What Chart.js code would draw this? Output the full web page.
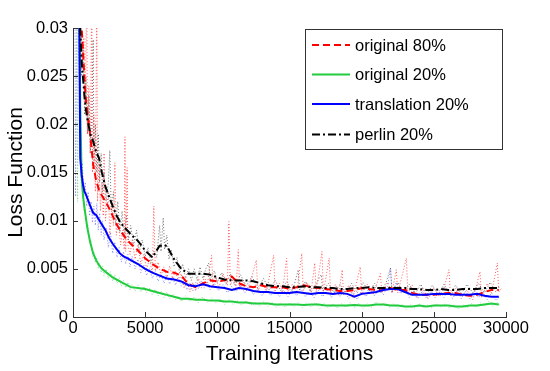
<!DOCTYPE html>
<html>
<head>
<meta charset="utf-8">
<script src="https://cdn.jsdelivr.net/npm/chart.js@4.4.0/dist/chart.umd.min.js"></script>
<style>
html,body{margin:0;padding:0;background:#fff;}
canvas{display:block;}
</style>
</head>
<body>
<canvas id="c" width="550" height="371"></canvas>
<script>
// ---- data ----
const iters = [400,500,600,700,800,900,1000,1200,1400,1600,1800,2000,2250,2500,2750,3000,3250,3500,3750,4000,
  4500,5000,5500,6000,6500,7000,7500,8000,8500,9000,9500,10000,10500,11000,11500,12000,12500,13000,13500,14000,
  14500,15000,15500,16000,16500,17000,17500,18000,18500,19000,19500,20000,20500,21000,21500,22000,22500,23000,23500,24000,
  24500,25000,25500,26000,26500,27000,27500,28000,28500,29000,29500];

const original80 = [0.040,0.034,0.030,0.0275,0.0245,0.0225,0.0212,0.0188,0.0158,0.0142,0.0132,0.0126,0.0120,0.0113,0.0105,0.0097,0.0090,0.0085,0.0080,0.0076,
  0.0069,0.0061,0.0055,0.0050,0.0047,0.0046,0.0043,0.0034,0.0031,0.0035,0.0038,0.0037,0.0038,0.0042,0.0035,0.0032,0.0031,0.0033,0.0031,0.0031,
  0.0031,0.0029,0.0031,0.0033,0.0031,0.0030,0.0029,0.0028,0.0027,0.0027,0.0028,0.0030,0.0029,0.0028,0.0030,0.0030,0.0028,0.0028,0.0025,0.0023,
  0.0023,0.0023,0.0024,0.0025,0.0025,0.0023,0.0022,0.0023,0.0026,0.0028,0.0028];

const original20 = [0.040,0.022,0.0146,0.0125,0.0113,0.0102,0.0092,0.0077,0.0066,0.0059,0.0054,0.0050,0.0047,0.0044,0.0041,0.0039,0.0037,0.0035,0.0033,0.0031,
  0.0030,0.0029,0.0027,0.0025,0.0023,0.0021,0.0019,0.0019,0.0018,0.0018,0.0017,0.0017,0.0016,0.0016,0.0015,0.0015,0.0014,0.0014,0.0014,0.0013,
  0.0013,0.0013,0.0013,0.00125,0.0013,0.0013,0.0012,0.0012,0.0012,0.0012,0.00125,0.0012,0.0012,0.0013,0.0013,0.0012,0.0012,0.0011,0.0011,0.0012,
  0.0011,0.0012,0.0012,0.0012,0.0011,0.0011,0.0012,0.0012,0.0013,0.0014,0.0013];

const translation20 = [0.040,0.0165,0.0148,0.0137,0.0130,0.0127,0.0123,0.0115,0.0108,0.0106,0.0101,0.0096,0.0090,0.0082,0.0076,0.0071,0.0066,0.0063,0.0061,0.0059,
  0.0055,0.0050,0.0046,0.0043,0.0040,0.0039,0.0037,0.0033,0.0032,0.0034,0.0032,0.0031,0.0030,0.0028,0.0030,0.0029,0.0027,0.0026,0.0026,0.0025,
  0.0025,0.0025,0.0026,0.0025,0.0024,0.0025,0.0025,0.0024,0.0025,0.0024,0.0021,0.0024,0.0025,0.0026,0.0028,0.0029,0.0029,0.0026,0.0023,0.0023,
  0.0023,0.0024,0.0024,0.0024,0.0023,0.0023,0.0023,0.0024,0.0022,0.0021,0.0021];

const perlin20 = [0.040,0.030,0.0265,0.0247,0.0228,0.0215,0.0205,0.0190,0.0182,0.0172,0.0165,0.0150,0.0135,0.0125,0.0115,0.0106,0.0099,0.0094,0.0090,0.0086,
  0.0079,0.0069,0.0062,0.0074,0.0074,0.0060,0.0050,0.0045,0.0045,0.0045,0.0044,0.0041,0.0039,0.0038,0.0038,0.0038,0.0037,0.0035,0.0033,0.0032,
  0.0032,0.0031,0.0031,0.0032,0.0031,0.0031,0.0030,0.0030,0.0029,0.0029,0.0030,0.0030,0.0031,0.0030,0.0030,0.0030,0.0030,0.0030,0.0029,0.0029,
  0.0028,0.0028,0.0029,0.0028,0.0028,0.0029,0.0029,0.0029,0.0030,0.0030,0.0030];

// raw (unsmoothed) loss, [iteration, loss]
const original80Raw = [[0,0.07],[150,0.05],[400,0.045],[500,0.030],[550,0.034],[650,0.026],[750,0.029],[850,0.022],[950,0.035],[1000,0.019],[1100,0.024],[1200,0.017],
  [1300,0.035],[1350,0.015],[1450,0.021],[1550,0.013],[1650,0.034],[1700,0.012],[1800,0.016],[1900,0.011],[2000,0.014],[2100,0.0105],[2150,0.017],[2250,0.010],
  [2450,0.013],[2550,0.0085],[2700,0.0115],[2800,0.0095],[2900,0.016],[3000,0.0085],[3150,0.010],[3300,0.0075],[3450,0.0090],[3550,0.0070],[3600,0.0187],[3650,0.0068],
  [3750,0.0155],[3800,0.0075],[3950,0.0065],[4100,0.0080],[4300,0.0060],[4500,0.0075],[4700,0.0055],[4900,0.0065],[5100,0.0050],[5300,0.0060],[5500,0.0045],[5600,0.0115],
  [5700,0.0048],[5900,0.0057],[6100,0.0043],[6300,0.0052],[6500,0.0040],[6700,0.0053],[6900,0.0040],[7100,0.0048],[7300,0.0036],[7500,0.0045],[7700,0.0030],[7900,0.0038],
  [8100,0.0026],[8300,0.0036],[8500,0.0027],[8700,0.0040],[8900,0.0030],[9100,0.0042],[9300,0.0033],[9600,0.0064],[9700,0.0032],[9900,0.0042],[10100,0.0030],[10400,0.0045],
  [10700,0.0033],[10800,0.0099],[10900,0.0033],[11100,0.0040],[11300,0.0030],[11450,0.0070],[11550,0.0029],[11800,0.0038],[12000,0.0027],[12300,0.0037],[12700,0.0059],[12800,0.0027],
  [13100,0.0036],[13400,0.0026],[13900,0.0064],[14000,0.0027],[14300,0.0035],[14500,0.0025],[14800,0.0061],[14900,0.0026],[15200,0.0034],[15500,0.0025],[15850,0.0066],[15950,0.0027],
  [16200,0.0036],[16500,0.0026],[16750,0.0056],[16850,0.0026],[17250,0.0068],[17350,0.0026],[17750,0.0061],[17850,0.0024],[18200,0.0034],[18400,0.0023],[18650,0.0049],[18750,0.0023],
  [19100,0.0033],[19400,0.0020],[19900,0.0052],[20000,0.0024],[20400,0.0034],[20800,0.0024],[21300,0.0045],[21400,0.0025],[21800,0.0036],[22100,0.0025],[22400,0.0049],[22500,0.0025],
  [23100,0.0061],[23200,0.0024],[23500,0.0033],[23800,0.0020],[24200,0.0030],[24600,0.0019],[25000,0.0030],[25400,0.0021],[25700,0.0030],[26050,0.0049],[26150,0.0022],[26500,0.0030],
  [26900,0.0021],[27300,0.0028],[27700,0.0018],[28200,0.0047],[28300,0.0020],[28700,0.0035],[29000,0.0025],[29400,0.0056],[29500,0.0026],[29700,0.0030]];

const original20Raw = [[0,0.07],[250,0.06],[320,0.012],[420,0.05],[480,0.022],[550,0.014],[650,0.0130],[750,0.0110],[850,0.0112],[950,0.0093],[1050,0.0095],[1150,0.0078],
  [1250,0.0080],[1350,0.0063],[1450,0.0068],[1550,0.0056],[1650,0.0062],[1750,0.0050],[1850,0.0056],[1950,0.0046],[2050,0.0053],[2150,0.0043],[2300,0.0050],[2450,0.0040],
  [2600,0.0047],[2750,0.0037],[2900,0.0044],[3050,0.0035],[3200,0.0041],[3350,0.0032],[3500,0.0038],[3650,0.0030],[3800,0.0036],[3950,0.0028],[4100,0.0034],[4300,0.0027],
  [4500,0.0033],[4700,0.0026],[4900,0.0032],[5100,0.0025],[5300,0.0030],[5500,0.0023],[5700,0.0029],[5900,0.0022],[6100,0.0027],[6300,0.0020],[6500,0.0026],[6700,0.0019],
  [6900,0.0024],[7100,0.0018],[7300,0.0022],[7500,0.0016],[7800,0.0022],[8100,0.0016],[8400,0.0021],[8700,0.0015],[9000,0.0021],[9300,0.0015],[9600,0.0020],[9900,0.0014],
  [10200,0.0019],[10500,0.0013],[10800,0.0018],[11100,0.0013],[11400,0.0017],[11700,0.0012],[12000,0.0017],[12300,0.0012],[12600,0.0016],[12900,0.0011],[13200,0.0016],[13500,0.0011],
  [13800,0.0015],[14100,0.0010],[14400,0.0015],[14700,0.0010],[15000,0.0015],[15300,0.0010],[15600,0.0015],[15900,0.0010],[16200,0.0015],[16500,0.0010],[16800,0.0015],[17100,0.0009],
  [17400,0.0014],[17700,0.0009],[18000,0.0014],[18300,0.0009],[18600,0.0014],[18900,0.0010],[19200,0.0015],[19500,0.0010],[19800,0.0014],[20100,0.0009],[20400,0.0014],[20700,0.0010],
  [21000,0.0016],[21300,0.0011],[21600,0.0015],[21900,0.0010],[22200,0.0014],[22500,0.0009],[22800,0.0013],[23100,0.0008],[23400,0.0013],[23700,0.0009],[24000,0.0014],[24300,0.0009],
  [24600,0.0013],[24900,0.0009],[25200,0.0014],[25500,0.0010],[25800,0.0014],[26100,0.0009],[26400,0.0013],[26700,0.0008],[27000,0.0013],[27300,0.0009],[27600,0.0014],[27900,0.0010],
  [28200,0.0015],[28500,0.0011],[28800,0.0016],[29100,0.0011],[29400,0.0015],[29600,0.0011]];

const translation20Raw = [[0,0.07],[100,0.05],[180,0.0125],[300,0.04],[480,0.020],[550,0.0145],[650,0.016],[750,0.0125],[850,0.0140],[950,0.0115],[1050,0.0130],[1150,0.0105],
  [1250,0.0120],[1350,0.0098],[1450,0.0115],[1550,0.0095],[1650,0.0118],[1750,0.0090],[1850,0.0108],[1950,0.0085],[2050,0.0100],[2150,0.0080],[2300,0.0093],[2450,0.0072],
  [2600,0.0088],[2750,0.0066],[2900,0.0078],[3050,0.0062],[3200,0.0072],[3350,0.0057],[3500,0.0068],[3650,0.0055],[3800,0.0065],[3950,0.0052],[4100,0.0063],[4300,0.0050],
  [4500,0.0060],[4700,0.0046],[4900,0.0054],[5100,0.0043],[5300,0.0050],[5500,0.0040],[5700,0.0048],[5900,0.0037],[6100,0.0045],[6300,0.0035],[6500,0.0043],[6700,0.0034],
  [6900,0.0042],[7100,0.0033],[7300,0.0041],[7500,0.0032],[7700,0.0038],[7900,0.0028],[8100,0.0035],[8300,0.0027],[8500,0.0036],[8700,0.0029],[8900,0.0038],[9100,0.0030],
  [9300,0.0036],[9500,0.0028],[9800,0.0035],[10100,0.0027],[10400,0.0034],[10700,0.0025],[11000,0.0032],[11300,0.0026],[11600,0.0034],[11900,0.0025],[12200,0.0032],[12500,0.0023],
  [12800,0.0030],[13100,0.0022],[13400,0.0029],[13700,0.0022],[14000,0.0028],[14300,0.0021],[14600,0.0028],[14900,0.0021],[15200,0.0029],[15500,0.0022],[15800,0.0029],[16100,0.0021],
  [16400,0.0028],[16700,0.0020],[17000,0.0028],[17300,0.0021],[17600,0.0029],[17900,0.0020],[18200,0.0028],[18500,0.0021],[18800,0.0029],[19100,0.0019],[19400,0.0026],[19700,0.0018],
  [20000,0.0028],[20300,0.0021],[20600,0.0029],[20900,0.0022],[21200,0.0030],[21500,0.0023],[21800,0.0032],[22000,0.0051],[22100,0.0025],[22400,0.0036],[22700,0.0024],[23000,0.0031],
  [23300,0.0020],[23600,0.0027],[23900,0.0019],[24200,0.0027],[24500,0.0019],[24800,0.0027],[25100,0.0020],[25400,0.0028],[25700,0.0020],[26000,0.0028],[26300,0.0019],[26600,0.0027],
  [26900,0.0019],[27200,0.0027],[27500,0.0019],[27800,0.0027],[28100,0.0020],[28400,0.0026],[28700,0.0018],[29000,0.0025],[29300,0.0017],[29600,0.0022]];

const perlin20Raw = [[0,0.07],[200,0.05],[400,0.045],[500,0.032],[600,0.025],[700,0.028],[800,0.021],[900,0.025],[1000,0.019],[1100,0.023],[1200,0.017],[1300,0.021],
  [1400,0.0288],[1450,0.016],[1550,0.020],[1650,0.015],[1750,0.019],[1850,0.014],[1950,0.017],[2050,0.013],[2150,0.015],[2300,0.012],[2450,0.014],[2550,0.0173],
  [2650,0.011],[2800,0.013],[2950,0.0095],[3100,0.012],[3250,0.0088],[3400,0.011],[3550,0.0082],[3700,0.0105],[3850,0.0080],[4000,0.0095],[4200,0.0074],[4400,0.0090],
  [4600,0.0068],[4800,0.0080],[5000,0.0063],[5200,0.0072],[5400,0.0056],[5600,0.0068],[5800,0.0062],[6000,0.0095],[6100,0.0068],[6250,0.0103],[6350,0.0070],[6500,0.0085],
  [6650,0.0060],[6800,0.0070],[7000,0.0052],[7200,0.0062],[7400,0.0045],[7600,0.0055],[7800,0.0040],[8000,0.0050],[8200,0.0038],[8400,0.0050],[8600,0.0038],[8800,0.0052],
  [9000,0.0040],[9200,0.0050],[9400,0.0056],[9500,0.0038],[9800,0.0048],[10000,0.0036],[10300,0.0046],[10600,0.0034],[10900,0.0045],[11200,0.0033],[11600,0.0044],[12000,0.0032],
  [12400,0.0042],[12800,0.0030],[13200,0.0040],[13600,0.0028],[14000,0.0038],[14400,0.0027],[14800,0.0037],[15200,0.0026],[15600,0.0049],[15700,0.0028],[16100,0.0037],[16500,0.0026],
  [16900,0.0036],[17200,0.0044],[17300,0.0027],[17700,0.0035],[18100,0.0025],[18500,0.0034],[18900,0.0024],[19300,0.0035],[19700,0.0025],[20100,0.0036],[20500,0.0026],[20900,0.0035],
  [21300,0.0025],[21700,0.0036],[22000,0.0051],[22100,0.0026],[22500,0.0036],[22900,0.0025],[23300,0.0034],[23700,0.0024],[24100,0.0034],[24500,0.0023],[24900,0.0033],[25300,0.0023],
  [25700,0.0034],[26100,0.0024],[26500,0.0033],[26900,0.0024],[27300,0.0034],[27700,0.0025],[28100,0.0035],[28500,0.0025],[28900,0.0036],[29300,0.0026],[29600,0.0033]];

const xTickLabels = ['0','5000','10000','15000','20000','25000','30000'];
const yTickLabels = ['0','0.005','0.01','0.015','0.02','0.025','0.03'];
const legendLabels = ['original 80%','original 20%','translation 20%','perlin 20%'];

// ---- chart ----
const FONT = "'Liberation Sans', Arial, Helvetica, sans-serif";
const pts = arr => iters.map((x,i)=>({x:x, y:arr[i]}));
const rawPts = arr => arr.map(p=>({x:p[0], y:p[1]}));

const styles = [
  {color:'#ff0000', dash:[7,4], width:2},
  {color:'#22cc3f', dash:[], width:2},
  {color:'#0000ff', dash:[], width:2},
  {color:'#000000', dash:[8,3,2,3], width:2}
];
const rawColors = ['rgba(255,40,40,0.75)','rgba(50,200,80,0.6)','rgba(60,60,255,0.6)','rgba(40,40,40,0.65)'];
const smooth = [original80, original20, translation20, perlin20];
const raws = [original80Raw, original20Raw, translation20Raw, perlin20Raw];
const orders = [4,3,2,1];

const datasets = [];
smooth.forEach((s,i)=>{
  datasets.push({label:legendLabels[i], data:pts(s), borderColor:styles[i].color, borderDash:styles[i].dash,
    borderWidth:styles[i].width, pointRadius:0, tension:0, fill:false, order:orders[i], clip:0});
});
raws.forEach((r,i)=>{
  datasets.push({label:legendLabels[i]+' raw', data:rawPts(r), borderColor:rawColors[i], borderDash:[1,2],
    borderWidth:1, pointRadius:0, tension:0, fill:false, order:10+i, clip:0});
});

const tickPlugin = {
  id:'inTicks',
  afterDraw(chart){
    const ctx = chart.ctx, xs = chart.scales.x, ys = chart.scales.y, a = chart.chartArea;
    ctx.save();
    ctx.strokeStyle = '#333'; ctx.lineWidth = 1;
    ctx.beginPath();
    xs.ticks.forEach(t=>{ const p = Math.round(xs.getPixelForValue(t.value))+0.5; ctx.moveTo(p,a.bottom); ctx.lineTo(p,a.bottom-5); });
    ys.ticks.forEach(t=>{ const p = Math.round(ys.getPixelForValue(t.value))+0.5; ctx.moveTo(a.left,p); ctx.lineTo(a.left+5,p); });
    ctx.stroke();
    // legend
    const bx=305.5, by=29.5, bw=197, bh=120;
    ctx.fillStyle='#fff'; ctx.fillRect(bx,by,bw,bh);
    ctx.strokeStyle='#333'; ctx.strokeRect(bx,by,bw,bh);
    const rows=[45,74.5,104,134.5];
    ctx.font = "16.5px " + FONT; ctx.textBaseline='middle'; ctx.textAlign='left';
    legendLabels.forEach((lab,i)=>{
      ctx.save();
      ctx.strokeStyle=styles[i].color; ctx.lineWidth=styles[i].width; ctx.setLineDash(styles[i].dash);
      ctx.beginPath(); ctx.moveTo(312,rows[i]); ctx.lineTo(350,rows[i]); ctx.stroke();
      ctx.restore();
      ctx.fillStyle='#000'; ctx.fillText(lab,355,rows[i]+1);
    });
    ctx.restore();
  }
};

new Chart(document.getElementById('c'), {
  type:'line',
  data:{datasets},
  options:{
    responsive:false, animation:false, events:[],
    layout:{padding:{top:28,right:44,left:0,bottom:0}},
    plugins:{legend:{display:false}, tooltip:{enabled:false}},
    scales:{
      x:{type:'linear', min:0, max:30000,
        afterFit(s){ s.height = 54; },
        ticks:{stepSize:5000, color:'#000', padding:2, maxRotation:0, font:{size:16.5, family:FONT},
          callback:(v,i)=>xTickLabels[i]},
        grid:{display:true, drawOnChartArea:false, drawTicks:false},
        border:{display:true, color:'#333', width:1},
        title:{display:true, text:'Training Iterations', color:'#000', font:{size:21, family:FONT}, padding:{top:0,bottom:4}}
      },
      y:{type:'linear', min:0, max:0.03,
        afterFit(s){ s.width = 73; },
        ticks:{stepSize:0.005, color:'#000', padding:5, font:{size:16.5, family:FONT},
          callback:(v,i)=>yTickLabels[i]},
        grid:{display:true, drawOnChartArea:false, drawTicks:false},
        border:{display:true, color:'#333', width:1},
        title:{display:true, text:'Loss Function', color:'#000', font:{size:21, family:FONT}, padding:{top:4,bottom:0}}
      }
    }
  },
  plugins:[tickPlugin]
});
</script>
</body>
</html>
